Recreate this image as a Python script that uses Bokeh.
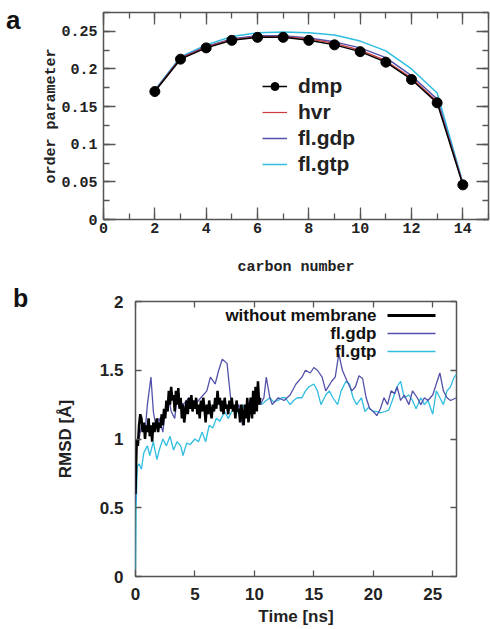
from bokeh.plotting import figure
from bokeh.layouts import column, row
from bokeh.models import (SingleIntervalTicker, LinearAxis, NumeralTickFormatter,
                          CustomJSTickFormatter, Legend, LegendItem, Label,
                          BoxAnnotation, Range1d, Div)
from bokeh.embed import file_html
from bokeh.resources import INLINE

# ---------------- panel a data ----------------
carbon = [2, 3, 4, 5, 6, 7, 8, 9, 10, 11, 12, 13, 14]
dmp    = [0.170, 0.213, 0.228, 0.238, 0.242, 0.242, 0.238, 0.232, 0.223, 0.209, 0.186, 0.155, 0.046]
hvr    = [0.171, 0.214, 0.229, 0.239, 0.243, 0.243, 0.240, 0.234, 0.225, 0.211, 0.188, 0.157, 0.047]
fl_gdp = [0.171, 0.215, 0.230, 0.240, 0.244, 0.244, 0.241, 0.236, 0.228, 0.215, 0.191, 0.160, 0.048]
fl_gtp = [0.172, 0.216, 0.232, 0.243, 0.248, 0.249, 0.248, 0.245, 0.237, 0.224, 0.200, 0.168, 0.049]

# ---------------- panel b data ----------------
wm_time = [round(0.1 * i, 1) for i in range(106)]
wm_rmsd = [0.60, 1.00, 0.95, 1.10, 1.18, 1.15, 1.05, 1.12, 1.00, 1.10,
           1.05, 1.15, 1.02, 1.10, 0.98, 1.12, 1.05, 1.10, 1.15, 1.05,
           1.12, 1.08, 1.18, 1.10, 1.22, 1.15, 1.28, 1.20, 1.35, 1.25,
           1.38, 1.28, 1.32, 1.20, 1.35, 1.25, 1.37, 1.22, 1.30, 1.15,
           1.25, 1.12, 1.20, 1.28, 1.18, 1.30, 1.22, 1.32, 1.20, 1.28,
           1.22, 1.30, 1.18, 1.25, 1.15, 1.28, 1.20, 1.30, 1.22, 1.12,
           1.25, 1.18, 1.28, 1.20, 1.15, 1.25, 1.20, 1.30, 1.22, 1.35,
           1.25, 1.30, 1.20, 1.28, 1.18, 1.30, 1.22, 1.25, 1.18, 1.28,
           1.22, 1.30, 1.20, 1.25, 1.15, 1.28, 1.20, 1.22, 1.12, 1.25,
           1.18, 1.10, 1.25, 1.15, 1.30, 1.12, 1.22, 1.30, 1.15, 1.35,
           1.18, 1.38, 1.20, 1.42, 1.25, 1.30]

gdp_time = [0.0, 0.1, 0.3, 0.5, 0.8, 1.0, 1.3, 1.5, 1.7, 2.0, 2.3, 2.5, 2.8, 3.0, 3.3,
            3.5, 4.0, 4.5, 5.0, 5.5, 6.0, 6.3, 6.7, 7.0, 7.3, 7.7, 8.0, 8.3, 8.7, 9.0,
            9.3, 9.7, 10.0, 10.3, 10.5, 10.8, 11.0, 11.3, 11.5, 12.0, 12.5, 13.0, 13.5,
            14.0, 14.3, 14.7, 15.0, 15.3, 15.7, 16.0, 16.5, 16.8, 17.1, 17.4, 17.8,
            18.2, 18.5, 18.8, 19.1, 19.4, 19.7, 20.0, 20.3, 20.6, 20.9, 21.2, 21.5,
            21.8, 22.0, 22.3, 22.6, 23.0, 23.3, 23.7, 24.0, 24.3, 24.6, 25.0, 25.3,
            25.6, 25.9, 26.2, 26.5, 27.0]
gdp_rmsd = [0.55, 0.95, 1.00, 1.10, 1.05, 1.25, 1.45, 1.20, 1.10, 1.15, 1.05, 1.20, 1.30,
            1.20, 1.15, 1.30, 1.25, 1.30, 1.25, 1.30, 1.35, 1.45, 1.40, 1.50, 1.58, 1.55,
            1.30, 1.20, 1.25, 1.10, 1.20, 1.30, 1.25, 1.35, 1.25, 1.30, 1.45, 1.30, 1.25,
            1.30, 1.28, 1.32, 1.40, 1.45, 1.50, 1.48, 1.52, 1.50, 1.45, 1.35, 1.42, 1.45,
            1.62, 1.50, 1.42, 1.35, 1.38, 1.46, 1.44, 1.30, 1.22, 1.20, 1.17, 1.22, 1.30,
            1.25, 1.35, 1.33, 1.38, 1.28, 1.32, 1.25, 1.35, 1.30, 1.25, 1.30, 1.28, 1.32,
            1.40, 1.48, 1.35, 1.30, 1.28, 1.30]

gtp_time = [0.0, 0.05, 0.15, 0.3, 0.5, 0.7, 1.0, 1.2, 1.5, 1.8, 2.0, 2.3, 2.6, 2.9, 3.2,
            3.5, 3.8, 4.0, 4.3, 4.6, 5.0, 5.3, 5.6, 5.9, 6.2, 6.5, 6.8, 7.1, 7.5, 7.8,
            8.1, 8.4, 8.7, 9.0, 9.3, 9.6, 10.0, 10.3, 10.6, 11.0, 11.3, 11.6, 12.0, 12.3,
            12.6, 13.0, 13.3, 13.6, 14.0, 14.3, 14.6, 15.0, 15.3, 15.6, 16.0, 16.3, 16.6,
            17.0, 17.3, 17.7, 18.0, 18.3, 18.6, 19.0, 19.3, 19.6, 20.0, 20.3, 20.6, 21.0,
            21.3, 21.6, 22.0, 22.3, 22.6, 23.0, 23.3, 23.6, 24.0, 24.3, 24.6, 25.0, 25.3,
            25.6, 25.9, 26.2, 26.5, 26.8, 27.0]
gtp_rmsd = [0.05, 0.50, 0.80, 0.82, 0.78, 0.90, 0.95, 0.88, 0.98, 0.85, 0.92, 1.00, 0.95,
            1.02, 0.92, 0.98, 0.95, 0.88, 0.97, 0.96, 1.00, 0.98, 1.05, 0.98, 1.10, 1.08,
            1.15, 1.13, 1.20, 1.15, 1.20, 1.22, 1.18, 1.25, 1.20, 1.28, 1.25, 1.30, 1.25,
            1.28, 1.30, 1.27, 1.28, 1.30, 1.30, 1.25, 1.28, 1.30, 1.30, 1.35, 1.38, 1.40,
            1.35, 1.25, 1.32, 1.35, 1.30, 1.25, 1.35, 1.42, 1.40, 1.30, 1.25, 1.30, 1.20,
            1.23, 1.20, 1.20, 1.19, 1.20, 1.21, 1.28, 1.38, 1.42, 1.30, 1.32, 1.28, 1.22,
            1.30, 1.25, 1.28, 1.18, 1.35, 1.30, 1.25, 1.35, 1.38, 1.45, 1.47]

legend_b_names = ["without membrane", "fl.gdp", "fl.gtp"]

BORDER = "#555555"
RED = "#cc3a3a"
SLATE = "#5252aa"
CYAN = "#2fbde0"
MONO = "Liberation Mono"
SANS = "Liberation Sans"


def style_axis(ax, ticker, font, size, standoff, show_labels=True, minor=True,
               tick_in=12, minor_in=6):
    ax.ticker = ticker
    ax.axis_line_color = None
    ax.major_tick_in = tick_in
    ax.major_tick_out = 0
    ax.major_tick_line_color = BORDER
    ax.major_tick_line_width = 1.3
    if minor:
        ax.minor_tick_in = minor_in
        ax.minor_tick_out = 0
        ax.minor_tick_line_color = BORDER
        ax.minor_tick_line_width = 1.3
    else:
        ax.minor_tick_line_color = None
    if show_labels:
        ax.formatter = NumeralTickFormatter(format="0.[00]")
        ax.major_label_text_font = font
        ax.major_label_text_font_size = size
        ax.major_label_text_font_style = "bold"
        ax.major_label_text_color = "#222222"
        ax.major_label_standoff = standoff
    else:
        ax.formatter = CustomJSTickFormatter(code="return ''")
        ax.major_label_standoff = 0


# ================= panel a =================
p1 = figure(width=452, height=283, output_backend="svg", toolbar_location=None,
            x_range=Range1d(0, 15), y_range=Range1d(0, 0.275),
            min_border_left=65, min_border_right=2, min_border_top=12, min_border_bottom=64)
p1.grid.visible = False
p1.outline_line_color = BORDER
p1.outline_line_width = 1.5

style_axis(p1.xaxis[0], SingleIntervalTicker(interval=2, num_minor_ticks=2), MONO, "15px", 3)
style_axis(p1.yaxis[0], SingleIntervalTicker(interval=0.05, num_minor_ticks=2), MONO, "15px", 6)
p1.xaxis[0].axis_label = "carbon number"
p1.yaxis[0].axis_label = "order parameter"
for ax in (p1.xaxis[0], p1.yaxis[0]):
    ax.axis_label_text_font = MONO
    ax.axis_label_text_font_size = "15px"
    ax.axis_label_text_font_style = "bold"
    ax.axis_label_text_color = "#222222"
p1.xaxis[0].axis_label_standoff = 23
p1.yaxis[0].axis_label_standoff = -2

ax_top = LinearAxis()
style_axis(ax_top, SingleIntervalTicker(interval=2, num_minor_ticks=2), MONO, "15px", 0, show_labels=False)
p1.add_layout(ax_top, "above")
ax_right = LinearAxis()
style_axis(ax_right, SingleIntervalTicker(interval=0.05, num_minor_ticks=2), MONO, "15px", 0, show_labels=False)
p1.add_layout(ax_right, "right")

r_gtp = p1.line(carbon, fl_gtp, line_color=CYAN, line_width=1.5)
r_gdp = p1.line(carbon, fl_gdp, line_color=SLATE, line_width=1.5)
r_hvr = p1.line(carbon, hvr, line_color=RED, line_width=1.2)
r_dmp = p1.line(carbon, dmp, line_color="black", line_width=1.5)
r_dmp_pts = p1.scatter(carbon, dmp, size=10, fill_color="black", line_color="black")

leg1 = Legend(items=[LegendItem(label="dmp", renderers=[r_dmp, r_dmp_pts]),
                     LegendItem(label="hvr", renderers=[r_hvr]),
                     LegendItem(label="fl.gdp", renderers=[r_gdp]),
                     LegendItem(label="fl.gtp", renderers=[r_gtp])],
              location=(159, 43), padding=0, margin=0, spacing=2,
              glyph_width=25, glyph_height=20, label_height=20, label_standoff=11,
              border_line_color=None, background_fill_alpha=0,
              label_text_font=SANS, label_text_font_style="bold",
              label_text_font_size="21px", label_text_color="#222222")
p1.add_layout(leg1)

div_a = Div(text="a", width=38, height=40, margin=(0, 0, 0, 0),
            styles={"font-family": SANS, "font-weight": "bold", "font-size": "26px",
                    "line-height": "26px", "color": "#111111", "padding-top": "7px",
                    "padding-left": "6px"})

# ================= panel b =================
p2 = figure(width=452, height=345, output_backend="svg", toolbar_location=None,
            x_range=Range1d(0, 27), y_range=Range1d(0, 2),
            min_border_left=97, min_border_right=34, min_border_top=18, min_border_bottom=51)
p2.grid.visible = False
p2.outline_line_color = BORDER
p2.outline_line_width = 1.5

style_axis(p2.xaxis[0], SingleIntervalTicker(interval=5), SANS, "17px", 7, minor=False, tick_in=6)
style_axis(p2.yaxis[0], SingleIntervalTicker(interval=0.5), SANS, "17px", 8, minor=False, tick_in=6)
p2.xaxis[0].axis_label = "Time [ns]"
p2.yaxis[0].axis_label = "RMSD [Å]"
for ax in (p2.xaxis[0], p2.yaxis[0]):
    ax.axis_label_text_font = SANS
    ax.axis_label_text_font_size = "17px"
    ax.axis_label_text_font_style = "bold"
    ax.axis_label_text_color = "#222222"
p2.xaxis[0].axis_label_standoff = 4
p2.yaxis[0].axis_label_standoff = 22

ax_top2 = LinearAxis()
style_axis(ax_top2, SingleIntervalTicker(interval=5), SANS, "17px", 0, show_labels=False, minor=False, tick_in=6)
p2.add_layout(ax_top2, "above")
ax_right2 = LinearAxis()
style_axis(ax_right2, SingleIntervalTicker(interval=0.5), SANS, "17px", 0, show_labels=False, minor=False, tick_in=6)
p2.add_layout(ax_right2, "right")

p2.line(gtp_time, gtp_rmsd, line_color=CYAN, line_width=1.3)
p2.line(gdp_time, gdp_rmsd, line_color=SLATE, line_width=1.3)
p2.line(wm_time, wm_rmsd, line_color="black", line_width=2.5)

leg_colors = ["black", SLATE, CYAN]
leg_widths = [3, 1.5, 1.5]
leg_y = [261, 243, 225]
for name, col, lw, yy in zip(legend_b_names, leg_colors, leg_widths, leg_y):
    p2.add_layout(Label(x=241, y=yy, x_units="screen", y_units="screen", text=name,
                        text_font=SANS, text_font_style="bold", text_font_size="17px",
                        text_align="right", text_baseline="middle", text_color="#111111"))
    p2.add_layout(BoxAnnotation(left=252, right=300, bottom=yy - lw / 2, top=yy + lw / 2,
                                left_units="screen", right_units="screen",
                                bottom_units="screen", top_units="screen",
                                fill_color=col, fill_alpha=1.0, line_color=None))

div_b = Div(text="b", width=38, height=40, margin=(0, 0, 0, 0),
            styles={"font-family": SANS, "font-weight": "bold", "font-size": "25px",
                    "line-height": "26px", "color": "#111111", "padding-top": "2px",
                    "padding-left": "13px"})

layout = column(row(div_a, p1, spacing=0), row(div_b, p2, spacing=0), spacing=0)
open("out.html", "w").write(file_html(layout, INLINE))
